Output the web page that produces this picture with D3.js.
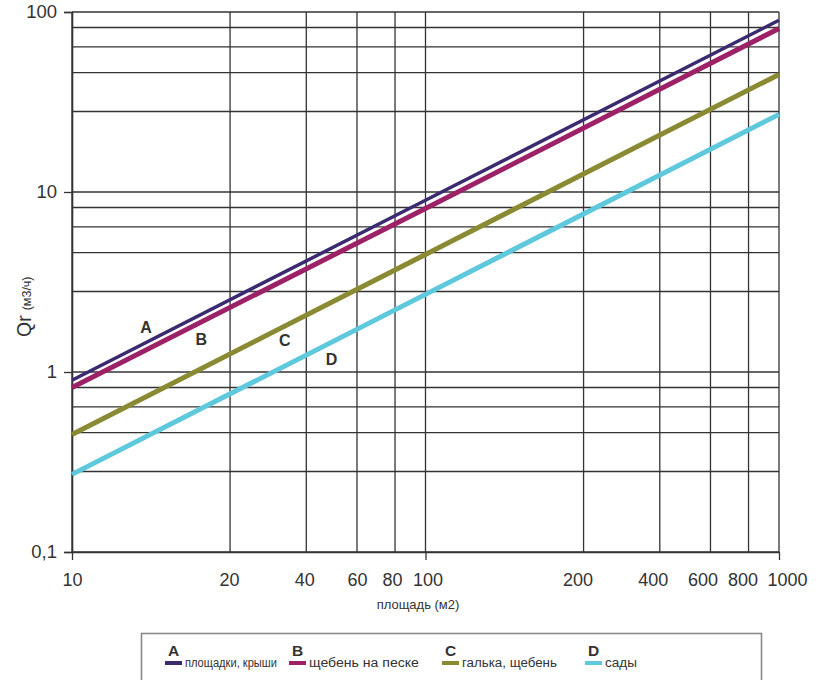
<!DOCTYPE html>
<html>
<head>
<meta charset="utf-8">
<script src="https://cdn.jsdelivr.net/npm/d3@7"></script>
<style>
  html, body { margin: 0; padding: 0; background: #fff; }
  svg { display: block; font-family: "Liberation Sans", Arial, Helvetica, sans-serif; }
</style>
</head>
<body>
<svg id="chart" width="825" height="680"></svg>
<script>
// ---- data ----
const xPoints = [10, 100, 1000];
const seriesA = [0.9, 9, 90];
const seriesB = [0.82, 8.1, 81];
const seriesC = [0.45, 4.5, 45];
const seriesD = [0.27, 2.7, 27];
const seriesKeys = ["A", "B", "C", "D"];
const seriesNames = ["площадки, крыши", "щебень на песке", "галька, щебень", "сады"];
const seriesColors = ["#3b2a70", "#9d2166", "#8a8a33", "#5ec8dc"];

const xGridValues = [10, 28, 46, 64, 82, 100, 280, 460, 640, 820, 1000];
const xTickLabels = ["10", "20", "40", "60", "80", "100", "200", "400", "600", "800", "1000"];
const yGridValues = [0.1, 0.28, 0.46, 0.64, 0.82, 1, 2.8, 4.6, 6.4, 8.2, 10, 28, 46, 64, 82, 100];
const yTickValues = [0.1, 1, 10, 100];
const yTickLabels = ["0,1", "1", "10", "100"];
const xMajorTicks = [10, 100, 1000];

// label anchor points (data coords) for series letters
const labelX = [16.2, 23.2, 40, 54.2];
const labelY = [1.64, 1.41, 1.39, 1.1];

// ---- drawing ----
const xLabelShift = [0, -1, -2, 0, -3, 2, -6, -7, -8, -6, 8];
const legendTextWidth = [92, 110, 95, 32];

const svg = d3.select("#chart");
const x = d3.scaleLog().domain([10, 1000]).range([72, 779]);
const y = d3.scaleLog().domain([0.1, 100]).range([552, 12]);

const gridColor = "#333";

// horizontal gridlines
svg.append("g").selectAll("line").data(yGridValues).join("line")
  .attr("x1", x(10)).attr("x2", x(1000))
  .attr("y1", d => y(d)).attr("y2", d => y(d))
  .attr("stroke", gridColor).attr("stroke-width", 1.3);

// vertical gridlines
svg.append("g").selectAll("line").data(xGridValues).join("line")
  .attr("y1", y(0.1)).attr("y2", y(100))
  .attr("x1", d => x(d)).attr("x2", d => x(d))
  .attr("stroke", gridColor).attr("stroke-width", 1.3);

// axes
const yAxis = d3.axisLeft(y).tickValues(yTickValues)
  .tickFormat((d, i) => yTickLabels[i]).tickSize(8).tickPadding(7);
const gy = svg.append("g").attr("transform", `translate(${x(10)},0)`).call(yAxis);
gy.select(".domain").attr("stroke", "#333").attr("stroke-width", 1.6);
gy.selectAll(".tick line").attr("stroke", "#333").attr("stroke-width", 1.3);
gy.selectAll(".tick text").attr("font-size", 18.5).attr("fill", "#333")
  .attr("font-family", "Liberation Sans, Arial, sans-serif");

const xAxisMajor = d3.axisBottom(x).tickValues(xMajorTicks).tickFormat("").tickSize(8).tickSizeOuter(0);
const gxm = svg.append("g").attr("transform", `translate(0,${y(0.1)})`).call(xAxisMajor);
gxm.select(".domain").attr("stroke", "#333").attr("stroke-width", 1.6);
gxm.selectAll(".tick line").attr("stroke", "#333").attr("stroke-width", 1.3);

const xAxisLabels = d3.axisBottom(x).tickValues(xGridValues)
  .tickFormat((d, i) => xTickLabels[i]).tickSize(0).tickPadding(21);
const gx = svg.append("g").attr("transform", `translate(0,${y(0.1)})`).call(xAxisLabels);
gx.select(".domain").remove();
gx.selectAll(".tick text").attr("font-size", 18).attr("fill", "#333")
  .attr("dx", (d, i) => xLabelShift[i])
  .attr("font-family", "Liberation Sans, Arial, sans-serif");

// series lines
const seriesVals = [seriesA, seriesB, seriesC, seriesD];
const widths = [3.5, 5, 5, 5];
const line = d3.line().x(d => x(d[0])).y(d => y(d[1]));
svg.append("g").selectAll("path").data(seriesVals).join("path")
  .attr("d", vals => line(xPoints.map((xv, i) => [xv, vals[i]])))
  .attr("fill", "none")
  .attr("stroke", (d, i) => seriesColors[i])
  .attr("stroke-width", (d, i) => widths[i]);

// series letters
svg.append("g").selectAll("text").data(seriesKeys).join("text")
  .attr("x", (d, i) => x(labelX[i]))
  .attr("y", (d, i) => y(labelY[i]))
  .attr("text-anchor", "middle")
  .attr("font-size", 16).attr("font-weight", "bold").attr("fill", "#333")
  .text(d => d);

// axis titles
const yt = svg.append("text")
  .attr("transform", "translate(31,337) rotate(-90)")
  .attr("fill", "#333");
yt.append("tspan").attr("font-size", 19.5).text("Qr");
yt.append("tspan").attr("font-size", 12.5).attr("dx", 5).text("(м3/ч)");

svg.append("text").attr("x", 418).attr("y", 609)
  .attr("text-anchor", "middle").attr("font-size", 13).attr("fill", "#333")
  .text("площадь (м2)");

// legend
svg.append("rect").attr("x", 141.5).attr("y", 633.5).attr("width", 620).attr("height", 60)
  .attr("fill", "none").attr("stroke", "#8a8a8a").attr("stroke-width", 1.6);
const legendX = [165, 289, 442, 585];
const lg = svg.append("g").selectAll("g").data(seriesKeys).join("g")
  .attr("transform", (d, i) => `translate(${legendX[i]},0)`);
lg.append("rect").attr("x", 0).attr("y", 661).attr("width", 17).attr("height", 4)
  .attr("fill", (d, i) => seriesColors[i]);
lg.append("text").attr("x", 8.5).attr("y", 655.5).attr("text-anchor", "middle")
  .attr("font-size", 15.5).attr("font-weight", "bold").attr("fill", "#333").text(d => d);
lg.append("text").attr("font-size", 13.5).attr("fill", "#333")
  .text((d, i) => seriesNames[i])
  .each(function(d, i) {
    const w = this.getComputedTextLength();
    const sx = w > 0 ? legendTextWidth[i] / w : 1;
    d3.select(this).attr("transform", `translate(20,667) scale(${sx},1)`);
  });
</script>
</body>
</html>
